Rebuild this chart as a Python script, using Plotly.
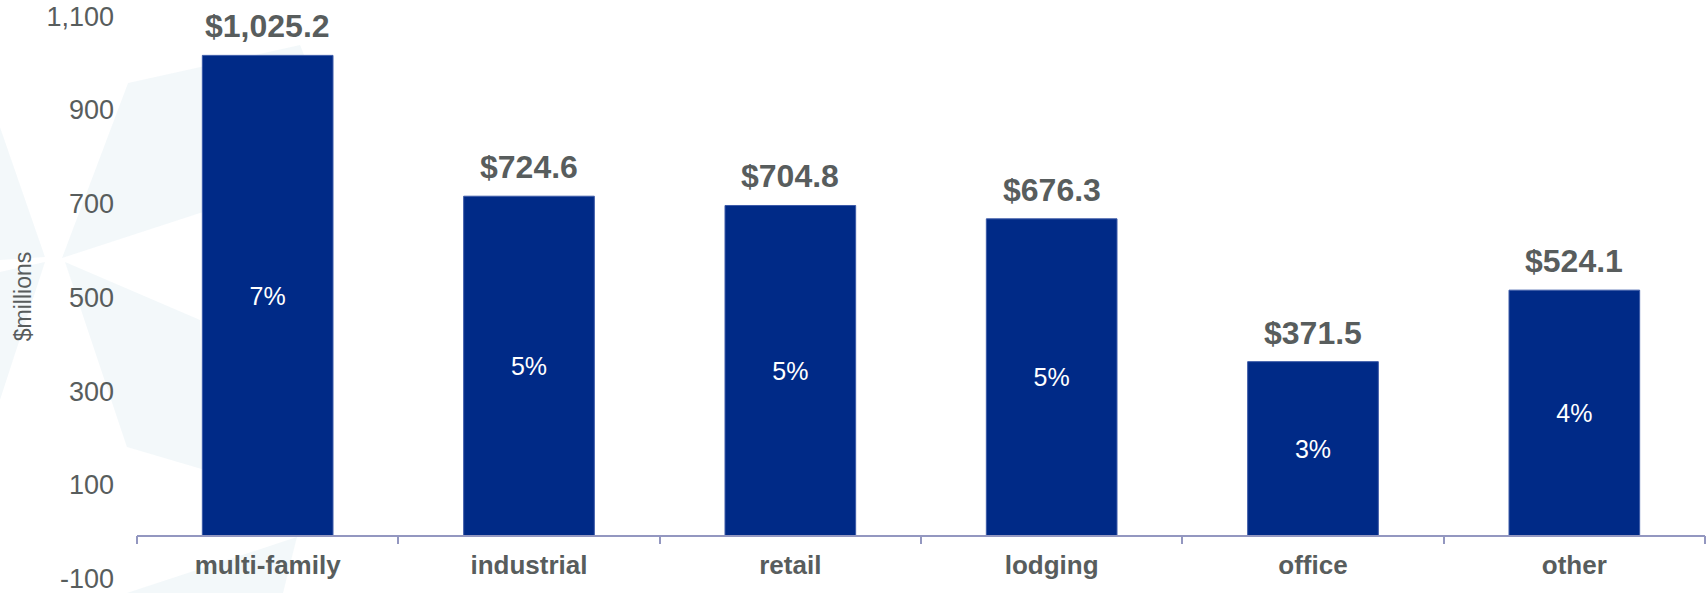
import plotly.graph_objects as go

# Loan balances by property type ($ millions) and share of portfolio
categories = ["multi-family", "industrial", "retail", "lodging", "office", "other"]
values = [1025.2, 724.6, 704.8, 676.3, 371.5, 524.1]
shares = [7, 5, 5, 5, 3, 4]
y_ticks = [-100, 100, 300, 500, 700, 900, 1100]

WIDTH, HEIGHT = 1707, 593
M_L, M_R, M_T, M_B = 137, 2, 0, 0
Y_MIN, Y_MAX = -122.3, 1143.4

BAR_BLUE = "#002A87"
GRAY = "#585D5D"
AXIS_LAV = "#9397C0"
FONT = "Arial, Liberation Sans, sans-serif"

plot_w = WIDTH - M_L - M_R
plot_h = HEIGHT - M_T - M_B


def to_paper(px, py):
    """Convert page pixel coordinates into paper coordinates."""
    return (px - M_L) / plot_w, (HEIGHT - M_B - py) / plot_h


def poly_path(points):
    pts = [to_paper(x, y) for x, y in points]
    return "M " + " L ".join(f"{x:.4f},{y:.4f}" for x, y in pts) + " Z"


# faint pinwheel watermark in the upper-left corner
watermark = [
    [(62, 258), (128, 83), (300, 45), (330, 120), (330, 175), (200, 213)],
    [(45, 257), (0, 127), (0, 260)],
    [(45, 262), (0, 272), (0, 400)],
    [(65, 262), (200, 320), (205, 470), (127, 447)],
    [(127, 593), (297, 537), (283, 593)],
]
shapes = [
    dict(type="path", path=poly_path(p), xref="paper", yref="paper",
         fillcolor="#EFF5F8", line=dict(width=0), opacity=0.75, layer="below")
    for p in watermark
]

fig = go.Figure()
fig.add_trace(go.Bar(
    x=categories,
    y=values,
    width=0.5,
    marker=dict(color=BAR_BLUE, line=dict(color="#3C5AA8", width=1)),
    text=[f"{s}%" for s in shares],
    textposition="inside",
    insidetextanchor="middle",
    textangle=0,
    textfont=dict(family=FONT, size=25, color="white"),
    hoverinfo="skip",
))

annotations = [
    dict(x=c, y=v, xref="x", yref="y", text=f"${v:,.1f}", showarrow=False,
         yanchor="middle", yshift=29,
         font=dict(family=FONT, size=32, color=GRAY, weight="bold"))
    for c, v in zip(categories, values)
]

axis_pos = (0 - Y_MIN) / (Y_MAX - Y_MIN)

fig.update_layout(
    width=WIDTH,
    height=HEIGHT,
    margin=dict(l=M_L, r=M_R, t=M_T, b=M_B, pad=0),
    paper_bgcolor="white",
    plot_bgcolor="rgba(0,0,0,0)",
    showlegend=False,
    shapes=shapes,
    annotations=annotations,
    font=dict(family=FONT, color=GRAY),
    xaxis=dict(
        anchor="free",
        position=axis_pos,
        automargin=False,
        showline=True,
        linecolor=AXIS_LAV,
        linewidth=1.5,
        ticks="outside",
        tickson="boundaries",
        ticklen=8,
        tickwidth=1.5,
        tickcolor=AXIS_LAV,
        ticklabelstandoff=6,
        tickfont=dict(family=FONT, size=26, color=GRAY, weight="bold"),
        showgrid=False,
        zeroline=False,
        fixedrange=True,
    ),
    yaxis=dict(
        range=[Y_MIN, Y_MAX],
        automargin=False,
        tickvals=y_ticks,
        ticktext=[f"{v:,}" for v in y_ticks],
        showgrid=False,
        zeroline=False,
        showline=False,
        ticks="",
        ticklabelstandoff=22,
        ticklabelshift=-4,
        ticklabeloverflow="allow",
        tickfont=dict(family=FONT, size=27, color=GRAY),
        title=dict(text="$millions", standoff=8,
                   font=dict(family=FONT, size=23, color=GRAY)),
        fixedrange=True,
    ),
)

fig.write_html("out.html")
